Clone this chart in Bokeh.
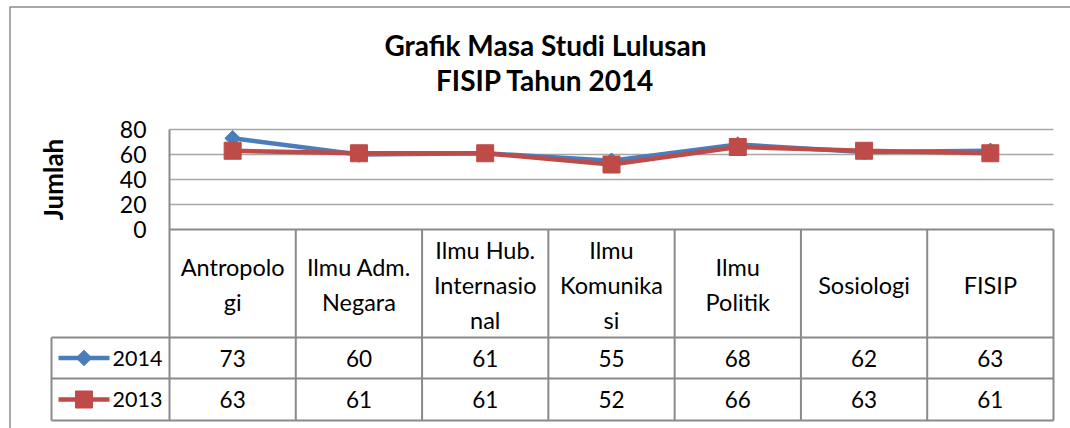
import math
from bokeh.plotting import figure
from bokeh.models import Range1d, FixedTicker, Label
from bokeh.embed import file_html
from bokeh.resources import INLINE
from bokeh.core.properties import value

# ---------------- data ----------------
categories = ["Antropologi", "Ilmu Adm. Negara", "Ilmu Hub. Internasional",
              "Ilmu Komunikasi", "Ilmu Politik", "Sosiologi", "FISIP"]
category_labels = ["Antropolo\ngi", "Ilmu Adm.\nNegara", "Ilmu Hub.\nInternasio\nnal",
                   "Ilmu\nKomunika\nsi", "Ilmu\nPolitik", "Sosiologi", "FISIP"]
series_2014 = [73, 60, 61, 55, 68, 62, 63]
series_2013 = [63, 61, 61, 52, 66, 63, 61]
series_names = ["2014", "2013"]
y_ticks = [0, 20, 40, 60, 80]
title_lines = ["Grafik Masa Studi Lulusan", "FISIP Tahun 2014"]
y_label = "Jumlah"

# ---------------- style ----------------
FONT = "Lato"
GRID = "#A6A6A6"
TABLE = "#8A8A8A"
BLUE = "#4A7EBB"
RED = "#BE4B48"

W, H = 1070, 428
PLOT_L, PLOT_R = 169, 1053
ZERO_Y, PX_PER_UNIT = 229, 1.25
n = len(categories)
col_w = (PLOT_R - PLOT_L) / n


def dx(ix):
    return (ix - PLOT_L) / col_w - 0.5


def dy(iy):
    return (ZERO_Y - iy) / PX_PER_UNIT


idx = list(range(n))

p = figure(width=W, height=H,
           x_range=Range1d(dx(0), dx(W)), y_range=Range1d(dy(H), dy(0)),
           output_backend="svg", toolbar_location=None,
           x_axis_location=None, y_axis_location="left",
           min_border=0, outline_line_color=None, background_fill_color="white",
           border_fill_color="white")
p.xgrid.visible = False
p.ygrid.visible = False

# y axis at left edge of the plot area
ax = p.yaxis[0]
ax.fixed_location = -0.5
ax.bounds = (min(y_ticks), max(y_ticks))
ax.ticker = FixedTicker(ticks=y_ticks)
ax.axis_line_color = None
ax.major_tick_line_color = None
ax.minor_tick_line_color = None
ax.major_tick_out = 0
ax.major_tick_in = 0
ax.major_label_standoff = 23
ax.major_label_text_font = FONT
ax.major_label_text_font_size = "23px"
ax.major_label_text_color = "black"
ax.axis_label = y_label
ax.axis_label_text_font = FONT
ax.axis_label_text_font_style = "bold"
ax.axis_label_text_font_size = "26px"
ax.axis_label_text_color = "black"
ax.axis_label_standoff = 48

# outer chart border (left & top)
p.segment(x0=[dx(9.5), dx(9)], y0=[dy(H), dy(6.5)], x1=[dx(9.5), dx(W)], y1=[dy(6.5), dy(6.5)],
          line_color="#8C8C8C", line_width=1.5)

# gridlines
gt = [t for t in y_ticks if t > 0]
p.segment(x0=[-0.5] * len(gt), x1=[n - 0.5] * len(gt), y0=gt, y1=gt,
          line_color=GRID, line_width=1.5)

# table lines
y_head = dy(337)
y_row = dy(378)
y_bot = dy(420)
x_leg = dx(51)
p.segment(x0=[-0.5, x_leg, x_leg, x_leg], x1=[n - 0.5] * 4,
          y0=[0, y_head, y_row, y_bot], y1=[0, y_head, y_row, y_bot],
          line_color=TABLE, line_width=2)
vx = [-0.5 + k for k in range(n + 1)]
p.segment(x0=vx, x1=vx, y0=[y_bot] * len(vx), y1=[max(y_ticks)] + [0] * n,
          line_color=TABLE, line_width=2)
p.segment(x0=[x_leg], x1=[x_leg], y0=[y_bot], y1=[y_head], line_color=TABLE, line_width=2)

# series
p.line(idx, series_2014, line_color=BLUE, line_width=4.5)
p.scatter(idx, series_2014, marker="square", angle=math.pi / 4, size=11,
          fill_color=BLUE, line_color=BLUE)
p.line(idx, series_2013, line_color=RED, line_width=4.5)
p.scatter(idx, series_2013, marker="square", size=17, fill_color=RED, line_color=RED)

# table texts
p.text(x=idx, y=[dy(284)] * n, text=category_labels, text_align="center",
       text_baseline="middle", text_font=value(FONT), text_font_size="23.5px",
       text_line_height=1.25, text_color="black")
row_y = [dy(357.5), dy(399)]
for vals, ry in zip([series_2014, series_2013], row_y):
    p.text(x=idx, y=[ry] * n, text=[str(v) for v in vals], text_align="center",
           text_baseline="middle", text_font=value(FONT), text_font_size="22.5px",
           text_color="black")

# legend keys in table
for name, ry, col, sz, ang in zip(series_names, row_y, [BLUE, RED],
                                  [11, 17], [math.pi / 4, 0]):
    p.segment(x0=[dx(58)], x1=[dx(109)], y0=[ry], y1=[ry], line_color=col, line_width=4.5)
    p.scatter([dx(83.5)], [ry], marker="square", size=sz, angle=ang, fill_color=col, line_color=col)
    p.text(x=[dx(112)], y=[ry], text=[name], text_align="left", text_baseline="middle",
           text_font=value(FONT), text_font_size="21.5px", text_color="black")

# title
for line, iy in zip(title_lines, [44, 79]):
    p.add_layout(Label(x=dx(545), y=dy(iy), text=line, text_align="center",
                       text_baseline="middle", text_font=FONT, text_font_style="bold",
                       text_font_size="28px", text_color="black"))

open("out.html", "w").write(file_html(p, INLINE))
